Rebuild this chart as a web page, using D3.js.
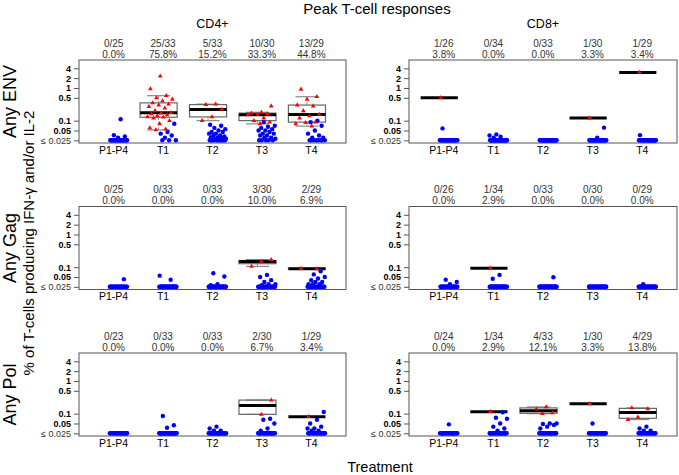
<!DOCTYPE html>
<html><head><meta charset="utf-8">
<script src="https://cdn.jsdelivr.net/npm/d3@7"></script>
<style>body{margin:0;background:#fff} text{font-family:"Liberation Sans",Arial,Helvetica,sans-serif}</style>
</head><body><svg id="c" width="679" height="475"></svg>
<script>
const groups = ["P1-P4","T1","T2","T3","T4"];
const yTicks = [4,2,1,0.5,0.1,0.05,0.025];
const yTickLabels = ["4","2","1","0.5","0.1","0.05","\u2264 0.025"];
const antigens = ["Any ENV","Any Gag","Any Pol"];
const subsets = ["CD4+","CD8+"];
const floorValue = 0.025;

// Totals per group (N), positive responders' values (red) and negative values above the floor (blue)
const cd4EnvN = [25,33,33,30,29];
const cd4EnvPos = [[],
  [2.3,0.93,0.58,0.5,0.45,0.4,0.35,0.32,0.3,0.27,0.24,0.2,0.175,0.17,0.16,0.15,0.14,0.13,0.127,0.12,0.1,0.08,0.06,0.055,0.052],
  [0.32,0.31,0.22,0.13,0.1],
  [0.28,0.18,0.17,0.16,0.155,0.15,0.12,0.1,0.09,0.08],
  [0.91,0.54,0.45,0.3,0.28,0.2,0.155,0.14,0.12,0.09,0.087,0.08,0.068]];
const cd4EnvNeg = [[0.11,0.036,0.033,0.03],
  [0.08,0.045,0.04,0.035,0.03],
  [0.075,0.07,0.06,0.055,0.05,0.045,0.045,0.04,0.04,0.035,0.035,0.033,0.03,0.03,0.03,0.028,0.028],
  [0.09,0.07,0.065,0.06,0.055,0.05,0.05,0.045,0.04,0.04,0.035,0.035,0.03,0.03,0.028],
  [0.1,0.09,0.07,0.05,0.04,0.035,0.03,0.03]];

const cd8EnvN = [26,34,33,30,29];
const cd8EnvPos = [[0.5],[],[],[0.12],[3.0]];
const cd8EnvNeg = [[0.058],[0.038,0.035,0.032,0.03],[],[0.061,0.03],[0.036]];

const cd4GagN = [25,33,33,30,29];
const cd4GagPos = [[],[],[],[0.17,0.15,0.105],[0.092,0.088]];
const cd4GagNeg = [[0.043],[0.055,0.041],[0.065,0.052,0.03,0.028],
  [0.058,0.05,0.04,0.035,0.03,0.03,0.028],
  [0.075,0.06,0.05,0.045,0.04,0.035,0.035,0.03,0.03,0.03]];

const cd8GagN = [26,34,33,30,29];
const cd8GagPos = [[],[0.093],[],[],[]];
const cd8GagNeg = [[0.041,0.035,0.03],[0.058,0.044],[0.049],[],[0.03]];

const cd4PolN = [23,33,33,30,29];
const cd4PolPos = [[],[],[],[0.26,0.095],[0.081]];
const cd4PolNeg = [[],[0.085,0.044,0.037],[0.04,0.035,0.03,0.03],
  [0.07,0.065,0.05,0.035,0.03],
  [0.112,0.065,0.05,0.04,0.035,0.035,0.03,0.03]];

const cd8PolN = [24,34,33,30,29];
const cd8PolPos = [[],[0.115],[0.16,0.14,0.105,0.1],[0.2],[0.15,0.14,0.078,0.066]];
const cd8PolNeg = [[0.047],[0.11,0.075,0.07,0.05,0.04,0.035,0.03],[0.05,0.05,0.048,0.045,0.04,0.035],[0.05],[0.04,0.035,0.03,0.03]];

const panels = [
  [[cd4EnvN,cd4EnvPos,cd4EnvNeg],[cd8EnvN,cd8EnvPos,cd8EnvNeg]],
  [[cd4GagN,cd4GagPos,cd4GagNeg],[cd8GagN,cd8GagPos,cd8GagNeg]],
  [[cd4PolN,cd4PolPos,cd4PolNeg],[cd8PolN,cd8PolPos,cd8PolNeg]]
];

const svg = d3.select("#c");
const colL = [79,409], colR = [346,677], rowT = [60,206.5,353], rowH = 83;

function fivenum(a){
  const x = a.slice().sort((p,q)=>p-q), n = x.length;
  const n4 = Math.floor((n+3)/2)/2;
  return [1,n4,(n+1)/2,n+1-n4,n].map(v=>0.5*(x[Math.floor(v)-1]+x[Math.ceil(v)-1]));
}
// deterministic spread (low-discrepancy) for horizontal jitter
function spread(k, seed){ return (((k+1)*0.6180339887 + seed*0.2357) % 1)*2 - 1; }

const tri = d3.symbol().type(d3.symbolTriangle).size(9.5);

// Titles
svg.append("text").attr("x",377).attr("y",14).attr("text-anchor","middle").attr("font-size",15).text("Peak T-cell responses");
svg.append("text").attr("x",380).attr("y",472).attr("text-anchor","middle").attr("font-size",14.5).text("Treatment");
svg.append("text").attr("transform","translate(34,243) rotate(-90)").attr("text-anchor","middle").attr("font-size",15).text("% of T-cells producing IFN-\u03b3 and/or IL-2");

panels.forEach((row, r) => {
  const top = rowT[r];
  const y = d3.scaleLog().domain([0.0207, 7.18]).range([top+rowH, top]);
  svg.append("text").attr("transform",`translate(15.5,${top+rowH/2}) rotate(-90)`).attr("text-anchor","middle").attr("font-size",18).text(antigens[r]);
  row.forEach((pd, c) => {
    const [N, pos, neg] = pd;
    const x = d3.scaleLinear().domain([0.3,5.7]).range([colL[c], colR[c]]);
    const g = svg.append("g");
    if (r === 0) g.append("text").attr("x",(colL[c]+colR[c])/2).attr("y",28).attr("text-anchor","middle").attr("font-size",12.5).text(subsets[c]);
    g.append("rect").attr("x",colL[c]).attr("y",top).attr("width",colR[c]-colL[c]).attr("height",rowH)
      .attr("fill","none").attr("stroke","#555").attr("stroke-width",1);
    // y axis
    const ax = g.append("g").attr("transform",`translate(${colL[c]},0)`)
      .call(d3.axisLeft(y).tickValues(yTicks).tickFormat((d,i)=>yTickLabels[i]).tickSize(5).tickPadding(3));
    ax.select(".domain").remove();
    ax.selectAll(".tick line").attr("stroke","#555");
    ax.selectAll(".tick text").attr("font-size",9).attr("font-weight",(d,i)=>i<6?"bold":"normal").attr("fill",(d,i)=>i<6?"#000":"#333")
      .attr("font-family",'"Liberation Sans",Arial,sans-serif');
    groups.forEach((gname, i) => {
      const cx = x(i+1);
      g.append("text").attr("x",cx).attr("y",top+93.5).attr("text-anchor","middle").attr("font-size",10.5).text(gname);
      const k = pos[i].length, n = N[i];
      g.append("text").attr("x",cx).attr("y",top-13.5).attr("text-anchor","middle").attr("font-size",10).attr("fill","#333").text(`${k}/${n}`);
      g.append("text").attr("x",cx).attr("y",top-2.5).attr("text-anchor","middle").attr("font-size",10).attr("fill","#333").text(`${(k/n*100).toFixed(1)}%`);
      // box plot of positives
      if (k > 0) {
        const st = fivenum(pos[i]); const iqr = st[3]-st[1];
        const hiW = d3.max(pos[i].filter(v=>v<=st[3]+1.5*iqr));
        const loW = d3.min(pos[i].filter(v=>v>=st[1]-1.5*iqr));
        const bc = x(i+1-0.09), bw = x(0.75)-x(0), cw = bw*0.62;
        g.append("line").attr("x1",bc).attr("x2",bc).attr("y1",y(hiW)).attr("y2",y(st[3])).attr("stroke","#999").attr("stroke-dasharray","3,2");
        g.append("line").attr("x1",bc).attr("x2",bc).attr("y1",y(st[1])).attr("y2",y(loW)).attr("stroke","#999").attr("stroke-dasharray","3,2");
        [hiW, loW].forEach(v => g.append("line").attr("x1",bc-cw/2).attr("x2",bc+cw/2).attr("y1",y(v)).attr("y2",y(v)).attr("stroke","#888").attr("stroke-width",1.2));
        g.append("rect").attr("x",bc-bw/2).attr("width",bw).attr("y",y(st[3])).attr("height",Math.max(0,y(st[1])-y(st[3])))
          .attr("fill","none").attr("stroke","#666").attr("stroke-width",1.2);
        g.append("line").attr("x1",bc-bw/2).attr("x2",bc+bw/2).attr("y1",y(st[2])).attr("y2",y(st[2])).attr("stroke","#000").attr("stroke-width",3);
      }
      // negatives (blue): values above floor plus remaining at floor
      const nFloor = n - k - neg[i].length;
      const negAll = neg[i].concat(d3.range(nFloor).map(()=>floorValue));
      negAll.forEach((v, j) => {
        g.append("circle").attr("cx", x(i+1+0.1+0.18*spread(j, i+r*5+c*15))).attr("cy", y(Math.max(v, floorValue)))
          .attr("r",2.2).attr("fill","#0000ff");
      });
      pos[i].forEach((v, j) => {
        g.append("path").attr("d",tri).attr("fill","#ff0000")
          .attr("transform",`translate(${x(i+1-0.06+(k>1?0.26*spread(j, i+7):0))},${y(v)})`);
      });
    });
  });
});
</script></body></html>
